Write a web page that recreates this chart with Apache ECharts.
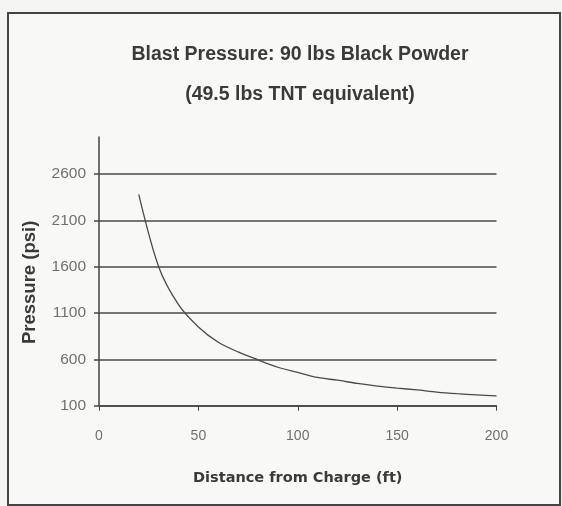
<!DOCTYPE html>
<html>
<head>
<meta charset="utf-8">
<script src="https://cdn.jsdelivr.net/npm/echarts@6/dist/echarts.min.js"></script>
<style>
  html, body { margin: 0; padding: 0; background: #f5f5f3; }
  #chart { width: 562px; height: 506px; }
</style>
</head>
<body>
<div id="chart"></div>
<script>
// Data
const titleLine1 = 'Blast Pressure: 90 lbs Black Powder';
const titleLine2 = '(49.5 lbs TNT equivalent)';
const xAxisName = 'Distance from Charge (ft)';
const yAxisName = 'Pressure (psi)';
const distances = [20, 30, 40, 50, 60, 70, 80, 90, 100, 110, 120, 130, 140, 150, 160, 170, 180, 190, 200];
const pressures = [2380, 1600, 1190, 950, 785, 680, 595, 515, 460, 405, 375, 340, 312, 290, 270, 247, 230, 217, 205];
const yTicks = [100, 600, 1100, 1600, 2100, 2600];
const xTicks = [0, 50, 100, 150, 200];

const chart = echarts.init(document.getElementById('chart'), null, { renderer: 'canvas' });

const seriesData = distances.map((d, i) => [d, pressures[i]]);
const FONT = 'Liberation Sans, Arial, sans-serif';

chart.setOption({
  backgroundColor: '#f5f5f3',
  animation: false,
  title: [
    { text: titleLine1, left: 300, top: 45, textAlign: 'center', padding: 0,
      textStyle: { fontFamily: FONT, fontSize: 19.5, fontWeight: 'bold', color: '#3a3a3a' } },
    { text: titleLine2, left: 300, top: 85, textAlign: 'center', padding: 0,
      textStyle: { fontFamily: FONT, fontSize: 19.5, fontWeight: 'bold', color: '#3a3a3a' } }
  ],
  graphic: [
    { type: 'rect', shape: { x: 8, y: 13, width: 552, height: 492 },
      style: { fill: '#f8f8f7', stroke: '#444', lineWidth: 2 }, z: -10, silent: true }
  ],
  grid: { left: 99, right: 65.5, top: 137, bottom: 100.3, containLabel: false },
  xAxis: {
    type: 'value', min: 0, max: 200, interval: 50,
    name: xAxisName, nameLocation: 'middle', nameGap: 65,
    nameTextStyle: { fontFamily: 'DejaVu Sans, sans-serif', fontSize: 14.5, fontWeight: 'bold', color: '#3a3a3a' },
    axisLine: { show: true, onZero: false, lineStyle: { color: '#444', width: 1.5 } },
    axisTick: { show: true, inside: false, length: 5, lineStyle: { color: '#444', width: 1 } },
    axisLabel: { margin: 23, fontFamily: FONT, fontSize: 14, color: '#707070',
      customValues: xTicks, formatter: v => String(v) },
    splitLine: { show: false }
  },
  yAxis: {
    type: 'value', min: 100, max: 3000,
    name: yAxisName, nameLocation: 'middle', nameGap: 60, nameRotate: 90,
    nameTextStyle: { fontFamily: FONT, fontSize: 18.5, fontWeight: 'bold', color: '#3a3a3a',
      padding: [0, 22, 0, 0] },
    axisLine: { show: true, lineStyle: { color: '#444', width: 1.5 } },
    axisTick: { show: true, inside: false, length: 5, lineStyle: { color: '#444', width: 1.5 }, customValues: yTicks },
    axisLabel: { margin: 13, fontFamily: FONT, fontSize: 15.5, color: '#707070',
      customValues: yTicks, formatter: v => String(v) },
    splitLine: { show: true, lineStyle: { color: '#4a4a4a', width: 1.5 } }
  },
  series: [{
    type: 'line',
    data: seriesData,
    smooth: 0.3,
    showSymbol: false,
    lineStyle: { color: '#4a4a4a', width: 1.3 },
    z: 5
  }]
});
</script>
</body>
</html>
